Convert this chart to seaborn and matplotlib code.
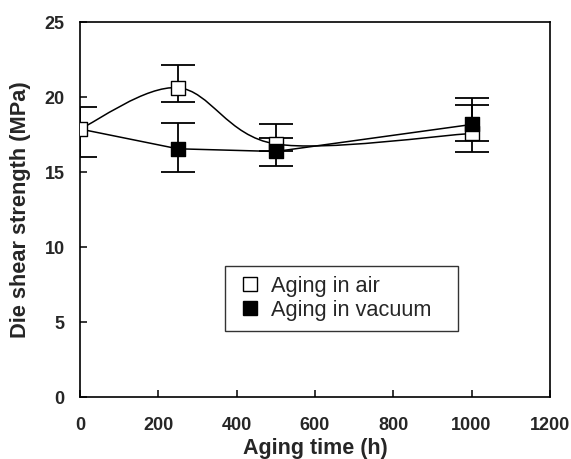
import numpy as np
import pandas as pd
import matplotlib
matplotlib.use("Agg")
import matplotlib.pyplot as plt
from matplotlib.path import Path
from matplotlib.patches import PathPatch
from matplotlib.lines import Line2D
import seaborn as sns

# ---- data ----
aging_time = [0, 250, 500, 1000]
air_mean = [17.9, 20.65, 16.9, 17.6]
air_upper = [19.35, 22.15, 18.2, 19.5]
air_lower = [16.05, 19.7, 16.42, 17.1]
vac_mean = [17.9, 16.58, 16.4, 18.2]
vac_upper = [19.35, 18.27, 17.27, 19.98]
vac_lower = [16.05, 15.0, 15.46, 16.38]
x_ticks = [0, 200, 400, 600, 800, 1000, 1200]
y_ticks = [0, 5, 10, 15, 20, 25]
labels = ["Aging in air", "Aging in vacuum"]

sns.set_theme(style="ticks")
plt.rcParams['font.family'] = ['Liberation Sans', 'DejaVu Sans']

fig = plt.figure(figsize=(5.71, 4.59), dpi=100)
ax = fig.add_axes([0.140, 0.134, 0.823, 0.817])

df = pd.DataFrame({"t": aging_time, "air": air_mean, "vac": vac_mean})

# vacuum straight line
sns.lineplot(data=df, x="t", y="vac", ax=ax, color="black", lw=1.1, zorder=2,
             legend=False)

# air smoothed line (Catmull-Rom style Bezier through data points)
xs = np.array(aging_time, float)
ys = np.array(air_mean, float)
P = np.column_stack([xs, ys])
n = len(P)
verts = [P[0]]
codes = [Path.MOVETO]
for i in range(n - 1):
    p0 = P[i - 1] if i > 0 else P[i]
    p1 = P[i]
    p2 = P[i + 1]
    p3 = P[i + 2] if i + 2 < n else P[i + 1]
    c1 = p1 + (p2 - p0) / 6.0
    c2 = p2 - (p3 - p1) / 6.0
    verts += [c1, c2, p2]
    codes += [Path.CURVE4] * 3
ax.add_patch(PathPatch(Path(verts, codes), fill=False, edgecolor="black",
                       lw=1.1, zorder=2))

# error bars
air_err = [np.array(air_mean) - np.array(air_lower),
           np.array(air_upper) - np.array(air_mean)]
vac_err = [np.array(vac_mean) - np.array(vac_lower),
           np.array(vac_upper) - np.array(vac_mean)]
ax.errorbar(aging_time, air_mean, yerr=air_err, fmt="none", ecolor="black",
            elinewidth=1.3, capsize=12, capthick=1.3, zorder=2)
ax.errorbar(aging_time[1:], vac_mean[1:], yerr=[e[1:] for e in vac_err],
            fmt="none", ecolor="black", elinewidth=1.3, capsize=12,
            capthick=1.3, zorder=2)

# markers
sns.scatterplot(data=df, x="t", y="air", ax=ax, marker="s", s=115,
                facecolor="white", edgecolor="black", linewidth=1.0, zorder=3,
                legend=False)
sns.scatterplot(data=df.iloc[1:], x="t", y="vac", ax=ax, marker="s", s=115,
                color="black", edgecolor="black", linewidth=1.0, zorder=4,
                legend=False)

ax.set_xlim(0, 1200)
ax.set_ylim(0, 25)
ax.set_xticks(x_ticks)
ax.set_yticks(y_ticks)
ax.set_xticklabels([str(v) for v in x_ticks], fontweight="bold", fontsize=13)
ax.set_yticklabels([str(v) for v in y_ticks], fontweight="bold", fontsize=13)
ax.tick_params(direction="in", length=5, width=1.1, color="black",
               top=False, right=False)
ax.tick_params(axis="x", pad=14)
ax.tick_params(axis="y", pad=11)
for s in ax.spines.values():
    s.set_color("black")
    s.set_linewidth(1.2)
    s.set_visible(True)

ax.set_xlabel("Aging time (h)", fontweight="bold", fontsize=15.5, labelpad=3)
ax.set_ylabel("Die shear strength (MPa)", fontweight="bold", fontsize=15.7,
              labelpad=10)

handles = [
    Line2D([], [], ls="none", marker="s", markersize=10, markerfacecolor="white",
           markeredgecolor="black", markeredgewidth=1.0),
    Line2D([], [], ls="none", marker="s", markersize=10, markerfacecolor="black",
           markeredgecolor="black"),
]
leg = ax.legend(handles, labels, loc="upper left",
                bbox_to_anchor=(0.309, 0.351, 0.496, 0.0), mode="expand",
                frameon=True, fancybox=False,
                edgecolor="black", fontsize=15.7, handlelength=1.4,
                handletextpad=0.25, borderpad=0.45, labelspacing=0.15,
                borderaxespad=0)
leg.get_frame().set_linewidth(1.0)

fig.savefig("out.png", dpi=100)
